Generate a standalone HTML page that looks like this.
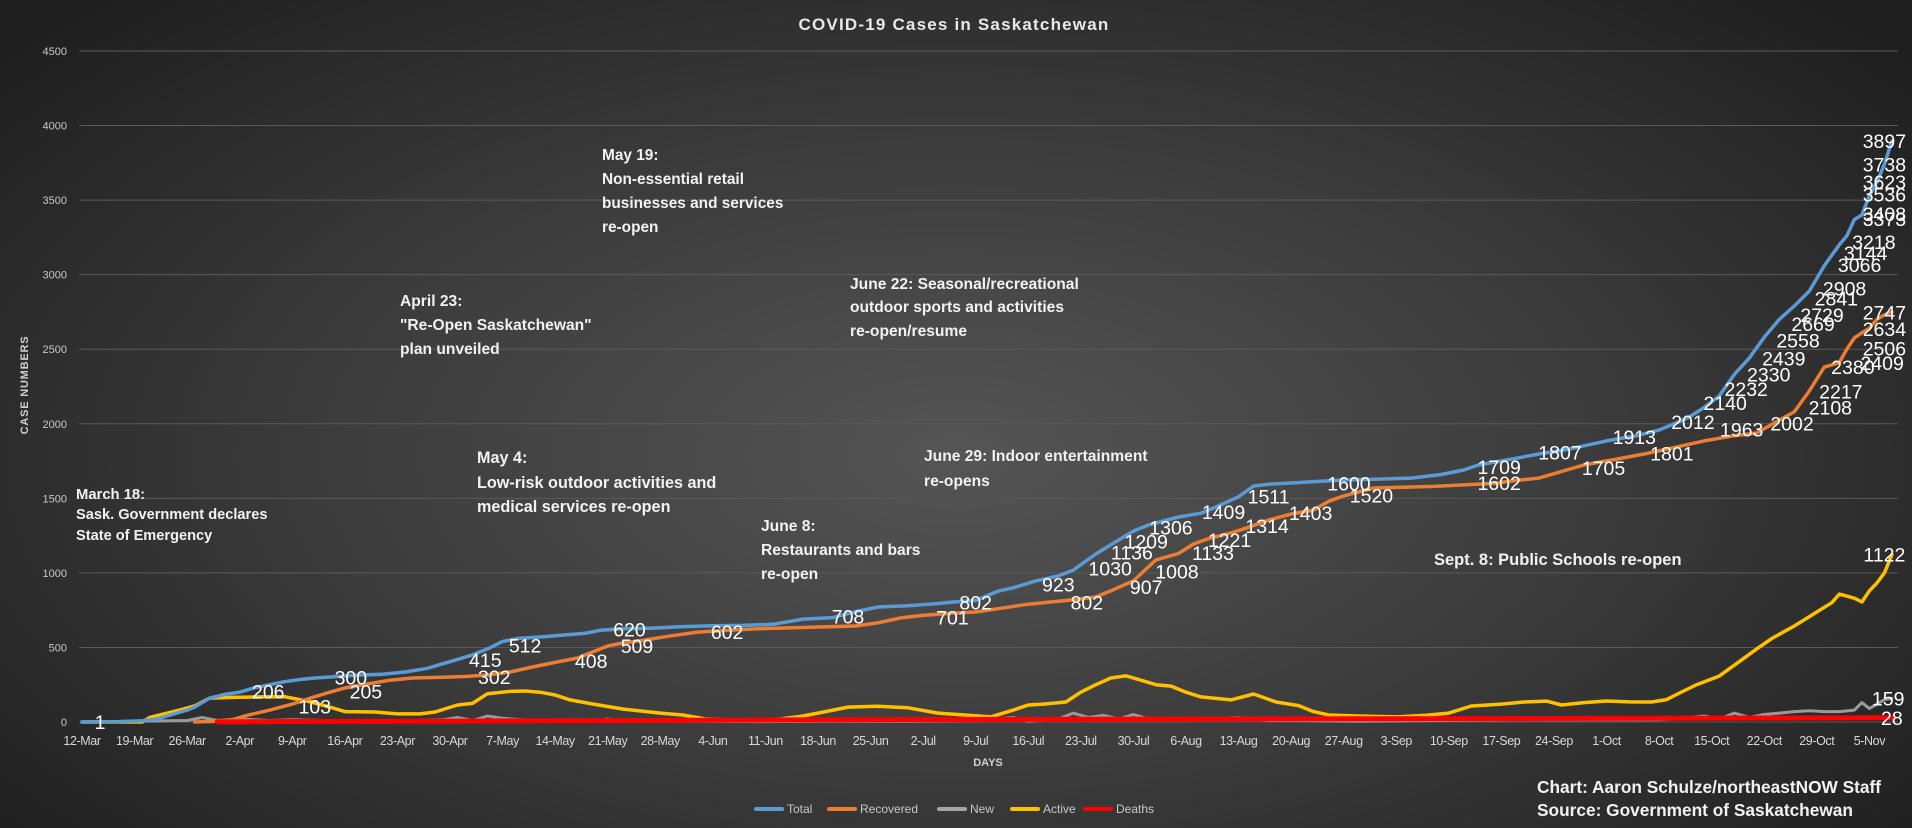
<!DOCTYPE html>
<html><head><meta charset="utf-8">
<style>
html,body{margin:0;padding:0;}
body{width:1912px;height:828px;overflow:hidden;background:radial-gradient(ellipse 65% 75% at 50% 55%,#555555 0%,#3c3c3c 50%,#1f1f1f 100%);font-family:"Liberation Sans",sans-serif;}
svg{position:absolute;left:0;top:0;}
.ann{fill:#f2f2f2;font-weight:bold;font-size:15.6px;}
</style></head>
<body>
<svg id="chart" width="1912" height="828" xmlns="http://www.w3.org/2000/svg">
<text x="954" y="30" text-anchor="middle" fill="#e8e8e8" font-size="17" font-weight="bold" letter-spacing="1.2">COVID-19 Cases in Saskatchewan</text>
<g id="grid"></g>
<g id="yticks"></g>
<g id="xticks"></g>
<text transform="translate(28,385) rotate(-90)" text-anchor="middle" fill="#d0d0d0" font-size="11" font-weight="bold" letter-spacing="0.8">CASE NUMBERS</text>
<text x="988" y="766" text-anchor="middle" fill="#d0d0d0" font-size="11" font-weight="bold">DAYS</text>
<g id="series"></g>
<g id="labels"></g>
<g>
<g><text class="ann" style="font-size:14.8px" x="76" y="499">March 18:</text><text class="ann" style="font-size:14.6px" x="76" y="519">Sask. Government declares</text><text class="ann" style="font-size:14.6px" x="76" y="540">State of Emergency</text></g>
<g><text class="ann" x="400" y="306">April 23:</text><text class="ann" x="400" y="330">"Re-Open Saskatchewan"</text><text class="ann" x="400" y="354">plan unveiled</text></g>
<g><text class="ann" style="font-size:15.4px" x="602" y="160">May 19:</text><text class="ann" style="font-size:15.4px" x="602" y="184">Non-essential retail</text><text class="ann" style="font-size:15.4px" x="602" y="208">businesses and services</text><text class="ann" style="font-size:15.4px" x="602" y="232">re-open</text></g>
<g><text class="ann" style="font-size:16.2px" x="477" y="463">May 4:</text><text class="ann" style="font-size:16.2px" x="477" y="488">Low-risk outdoor activities and</text><text class="ann" style="font-size:16.2px" x="477" y="512">medical services re-open</text></g>
<g><text class="ann" x="761" y="531">June 8:</text><text class="ann" x="761" y="555">Restaurants and bars</text><text class="ann" x="761" y="579">re-open</text></g>
<g><text class="ann" x="850" y="289">June 22: Seasonal/recreational</text><text class="ann" x="850" y="312">outdoor sports and activities</text><text class="ann" x="850" y="336">re-open/resume</text></g>
<g><text class="ann" x="924" y="461">June 29: Indoor entertainment</text><text class="ann" x="924" y="486">re-opens</text></g>
<g><text class="ann" style="font-size:16.5px" x="1434" y="565">Sept. 8: Public Schools re-open</text></g>
</g>
<g>
<text x="1537" y="793" fill="#f2f2f2" font-size="17.3" font-weight="bold">Chart: Aaron Schulze/northeastNOW Staff</text>
<text x="1537" y="816" fill="#f2f2f2" font-size="17.3" font-weight="bold">Source: Government of Saskatchewan</text>
</g>
<g id="legend"></g>
</svg>
<script>
const totalDays=[0,5,8,10,12,14,15,17,19,21,23,25,27,29,31,34,37,40,43,46,48,50,52,54,56,58,61,64,67,69,72,76,80,84,88,92,96,100,103,106,110,114,116,119,122,124,127,130,132,135,138,140,142,146,149,151,154,156,158,161,165,168,172,177,181,184,186,190,194,198,203,207,210,212,214,216,218,220,222,224,226,228,230,232,234,235,236,237,238,239,240,241];
const totalVals=[1,3,8,20,50,80,100,160,185,200,230,250,270,285,295,305,315,320,335,360,390,420,450,490,540,560,570,583,595,615,625,630,640,645,648,655,690,700,740,771,780,795,805,815,878,900,946,980,1019,1127,1220,1280,1321,1375,1400,1442,1510,1583,1595,1603,1615,1623,1628,1636,1660,1690,1724,1760,1797,1830,1885,1920,1958,2000,2045,2110,2186,2330,2440,2580,2700,2790,2890,3060,3200,3260,3370,3400,3530,3620,3740,3897];
const recDays=[15,18,20,22,25,28,31,33,35,38,41,44,48,51,54,57,60,63,66,68,70,72,75,78,82,86,90,93,97,100,103,106,109,112,116,119,122,126,129,132,135,137,140,143,146,148,150,153,155,158,161,164,166,168,172,176,180,184,188,191,194,197,200,204,208,212,216,220,223,226,228,229,230,231,232,233,234,235,236,237,238,239,240,241];
const recVals=[0,5,15,45,80,120,170,200,228,255,280,295,300,305,315,335,369,400,429,470,510,530,550,575,603,615,625,630,635,640,644,665,698,715,730,738,760,790,805,820,838,880,946,1087,1130,1194,1230,1268,1300,1355,1395,1422,1480,1516,1569,1575,1580,1590,1600,1620,1636,1680,1724,1760,1797,1840,1885,1920,1938,2025,2080,2150,2220,2300,2380,2395,2410,2500,2576,2610,2640,2700,2730,2750];
const actDays=[0,8,9,13,15,17,20,24,27,30,33,35,39,42,45,47,50,52,54,57,59,61,63,65,68,72,77,80,83,86,90,93,96,99,102,106,110,114,118,121,124,126,128,131,133,135,137,139,141,143,145,147,149,153,156,159,162,164,166,170,175,179,182,185,189,192,195,197,200,203,206,209,211,213,215,218,220,223,225,228,231,233,234,236,237,238,239,240,241];
const actVals=[0,0,30,80,107,160,165,168,170,140,100,70,67,54,54,67,114,125,190,205,208,200,181,148,121,87,60,47,20,15,15,20,40,70,100,105,95,60,45,34,80,114,120,134,200,250,295,310,280,250,241,200,168,148,188,134,110,70,47,40,34,45,60,107,120,134,140,114,130,141,135,134,150,201,250,308,380,490,560,644,738,800,858,830,805,880,932,1000,1122];
const newDays=[0,14,16,18,21,25,28,32,36,40,44,48,50,52,54,56,60,64,68,70,72,80,90,100,110,120,124,126,130,132,134,136,138,140,142,146,150,154,158,162,170,180,190,200,210,214,216,218,220,222,224,226,228,230,232,234,236,237,238,240,241];
const newVals=[0,10,30,10,20,10,15,10,5,8,10,15,30,10,40,25,10,5,5,20,5,5,3,5,5,10,30,5,20,60,30,45,20,50,20,15,20,30,10,10,5,10,15,15,15,30,40,20,60,30,50,60,70,75,70,70,80,130,90,150,159];
const deathDays=[18,30,50,100,150,200,241];
const deathVals=[1,4,6,15,20,24,28];
const yTicks=[0,500,1000,1500,2000,2500,3000,3500,4000,4500];
const xTickLabels=["12-Mar","19-Mar","26-Mar","2-Apr","9-Apr","16-Apr","23-Apr","30-Apr","7-May","14-May","21-May","28-May","4-Jun","11-Jun","18-Jun","25-Jun","2-Jul","9-Jul","16-Jul","23-Jul","30-Jul","6-Aug","13-Aug","20-Aug","27-Aug","3-Sep","10-Sep","17-Sep","24-Sep","1-Oct","8-Oct","15-Oct","22-Oct","29-Oct","5-Nov"];
const totalLabelDays=[2.4,24.8,35.8,53.7,59,72.9,102,119,130,136.9,139.8,141.7,145,152,158,168.7,188.7,196.8,206.7,214.5,218.8,221.6,224.6,226.6,228.5,230.5,231.7,233.6,234.7,236.7,237.5,238.6,240,240,240,240,240,240];
const totalLabelVals=[1,206,300,415,512,620,708,802,923,1030,1136,1209,1306,1409,1511,1600,1709,1807,1913,2012,2140,2232,2330,2439,2558,2669,2729,2841,2908,3066,3144,3218,3373,3408,3536,3623,3738,3897];
const recLabelDays=[31,37.8,54.9,67.8,73.9,85.9,115.9,133.8,141.7,145.8,150.6,152.8,157.8,163.6,171.7,188.7,202.6,211.7,221,227.7,232.8,234.2,235.8,239.7,240,240,240];
const recLabelVals=[103,205,302,408,509,602,701,802,907,1008,1133,1221,1314,1403,1520,1602,1705,1801,1963,2002,2108,2217,2380,2409,2506,2634,2747];
const actLabelDays=[240];const actLabelVals=[1122];
const newLabelDays=[240.5];const newLabelVals=[159];
const deathLabelDays=[241];const deathLabelVals=[28];

const NS="http://www.w3.org/2000/svg";
const X0=82, DX=7.51, Y0=722, SY=0.14911;
function xs(d){return X0+d*DX;}
function ys(v){return Y0-v*SY;}
function mk(tag,attrs,parent){const e=document.createElementNS(NS,tag);for(const k in attrs)e.setAttribute(k,attrs[k]);parent.appendChild(e);return e;}

const grid=document.getElementById('grid'), yt=document.getElementById('yticks'), xt=document.getElementById('xticks');
yTicks.forEach(v=>{
  const l=mk('line',{x1:79,x2:1898,y1:ys(v),y2:ys(v),stroke:'#5a5a5a','stroke-width':1},grid);
  
  
  const t=mk('text',{x:67,y:ys(v)+4,'text-anchor':'end',fill:'#c8c8c8','font-size':11},yt);
  t.textContent=v;
  
  
});
xTickLabels.forEach((s,i)=>{
  const t=mk('text',{x:xs(i*7),y:745,'text-anchor':'middle',fill:'#d8d8d8','font-size':12.5,'letter-spacing':'-0.4'},xt);
  t.textContent=s;
  
  
});

const sg=document.getElementById('series');
function drawLine(days,vals,color,w,name){
  const pts=days.map((d,i)=>xs(d).toFixed(1)+','+ys(vals[i]).toFixed(1)).join(' ');
  const p=mk('polyline',{points:pts,fill:'none',stroke:color,'stroke-width':w,'stroke-linejoin':'round','stroke-linecap':'round'},sg);
  
  
}
drawLine(newDays,newVals,'#9a9a9a',3,'new-line');
drawLine(actDays,actVals,'#ffc000',3.5,'active-line');
drawLine(recDays,recVals,'#ed7d31',3.5,'recovered-line');
drawLine(totalDays,totalVals,'#5b9bd5',3.5,'total-line');
drawLine(deathDays,deathVals,'#ff0000',5,'deaths-line');

const lg=document.getElementById('labels');
function drawLabels(days,vals,name){
  days.forEach((d,i)=>{
    const t=mk('text',{x:xs(d),y:ys(vals[i])+7,'text-anchor':'middle',fill:'#ffffff','font-size':19.5},lg);
    t.textContent=vals[i];
    
    
  });
}
drawLabels(totalLabelDays,totalLabelVals,'total-data-label');
drawLabels(recLabelDays,recLabelVals,'recovered-data-label');
drawLabels(actLabelDays,actLabelVals,'active-data-label');
drawLabels(newLabelDays,newLabelVals,'new-data-label');
drawLabels(deathLabelDays,deathLabelVals,'deaths-data-label');

const leg=document.getElementById('legend');
const legNames=['Total','Recovered','New','Active','Deaths'];
const legColors=['#5b9bd5','#ed7d31','#a5a5a5','#ffc000','#ff0000'];
const legX=[756,829,939,1012,1085];
legNames.forEach((n,i)=>{
  const g=mk('g',{},leg);
  
  
  mk('line',{x1:legX[i],x2:legX[i]+26,y1:809,y2:809,stroke:legColors[i],'stroke-width':4,'stroke-linecap':'round'},g);
  const t=mk('text',{x:legX[i]+31,y:813,fill:'#c8c8c8','font-size':12},g);
  t.textContent=n;
});
</script>
</body></html>
